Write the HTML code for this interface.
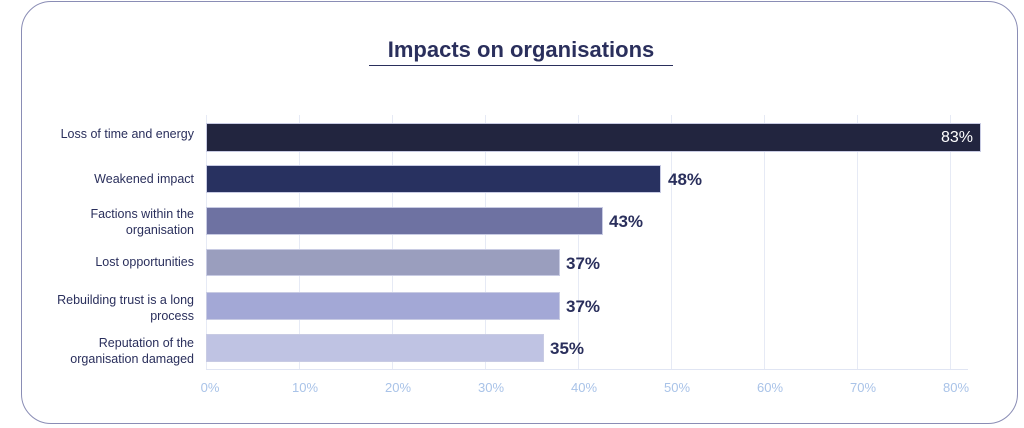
<!DOCTYPE html>
<html><head><style>
body{margin:0;width:1024px;height:428px;background:#fff;font-family:"Liberation Sans",sans-serif;position:relative;overflow:hidden}
.card{position:absolute;left:21px;top:1px;width:997px;height:423px;border:1.5px solid #8a8db5;border-radius:30px;box-sizing:border-box}
.title{position:absolute;left:369px;top:37px;width:304px;text-align:center;font-size:22px;font-weight:bold;color:#2a2f5c;border-bottom:1.5px solid #2a2f5c;padding-bottom:2px}
.g{position:absolute;top:115px;height:255px;width:1px;background:#e6eaf5}
.bar{position:absolute;left:206px;box-sizing:border-box;border:1px solid #c8cbe3}
.v{position:absolute;font-size:17px;font-weight:bold;color:#2a2f5c}
.lab{position:absolute;right:830px;font-size:12.5px;color:#2a2f5c;text-align:right;line-height:16px}
.t{position:absolute;top:380px;font-size:13px;color:#a9c3e8;width:40px;text-align:center}
</style></head><body>
<div class="card"></div>
<div class="title">Impacts on organisations</div>
<div class="g" style="left:206px"></div><div class="g" style="left:299px"></div><div class="g" style="left:392px"></div><div class="g" style="left:485px"></div><div class="g" style="left:578px"></div><div class="g" style="left:671px"></div><div class="g" style="left:764px"></div><div class="g" style="left:857px"></div><div class="g" style="left:950px"></div>
<div style="position:absolute;left:206px;top:369px;width:762px;height:1px;background:#e0e5f3"></div>
<div class="bar" style="top:123px;height:29px;width:775px;background:#22253f"></div>
<div class="v" style="left:941px;top:129px;color:#fff;font-weight:normal;font-size:16px">83%</div>
<div class="bar" style="top:165px;height:28px;width:455px;background:#283160"></div>
<div class="v" style="left:668px;top:170px">48%</div>
<div class="bar" style="top:207px;height:28px;width:397px;background:#6e72a2"></div>
<div class="v" style="left:609px;top:212px">43%</div>
<div class="bar" style="top:249px;height:27px;width:354px;background:#9a9ebe"></div>
<div class="v" style="left:566px;top:254px">37%</div>
<div class="bar" style="top:292px;height:28px;width:354px;background:#a3a8d6"></div>
<div class="v" style="left:566px;top:297px">37%</div>
<div class="bar" style="top:334px;height:28px;width:338px;background:#bfc3e3"></div>
<div class="v" style="left:550px;top:339px">35%</div>
<div class="lab" style="top:126px">Loss of time and energy</div>
<div class="lab" style="top:171px">Weakened impact</div>
<div class="lab" style="top:206px">Factions within the<br>organisation</div>
<div class="lab" style="top:254px">Lost opportunities</div>
<div class="lab" style="top:292px">Rebuilding trust is a long<br>process</div>
<div class="lab" style="top:335px">Reputation of the<br>organisation damaged</div>
<div class="t" style="left:190px">0%</div><div class="t" style="left:285px">10%</div><div class="t" style="left:378px">20%</div><div class="t" style="left:471px">30%</div><div class="t" style="left:564px">40%</div><div class="t" style="left:657px">50%</div><div class="t" style="left:750px">60%</div><div class="t" style="left:843px">70%</div><div class="t" style="left:936px">80%</div>
</body></html>
